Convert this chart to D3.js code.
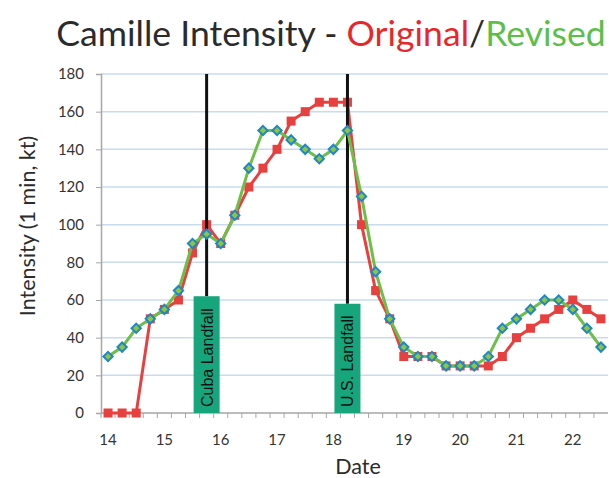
<!DOCTYPE html>
<html>
<head>
<meta charset="utf-8">
<script src="https://cdn.jsdelivr.net/npm/d3@7"></script>
<style>
  body { margin: 0; background: #fff; }
  svg { display: block; }
</style>
</head>
<body>
<div id="chart-area"></div>
<script>
// 6-hourly fixes from 14.0 to 22.5, with one extra fix at U.S. landfall (index 17)
const dates = ["14.00","14.25","14.50","14.75","15.00","15.25","15.50","15.75","16.00","16.25","16.50","16.75",
  "17.00","17.25","17.50","17.75","18.00","18.15","18.25","18.50","18.75","19.00","19.25","19.50","19.75",
  "20.00","20.25","20.50","20.75","21.00","21.25","21.50","21.75","22.00","22.25","22.50"]
const original = [0,0,0,50,55,60,85,100,90,105,120,130,140,155,160,165,165,165,100,65,50,30,30,30,25,
  25,25,25,30,40,45,50,55,60,55,50]
const revised = [30,35,45,50,55,65,90,95,90,105,130,150,150,145,140,135,140,150,115,75,50,35,30,30,25,
  25,25,30,45,50,55,60,60,55,45,35]
const dayLabels = {"14.00":"14","15.00":"15","16.00":"16","17.00":"17","18.00":"18",
  "19.00":"19","20.00":"20","21.00":"21","22.00":"22"}
const yTicks = [0,20,40,60,80,100,120,140,160,180]
const landfalls = [{date: "15.75", name: "Cuba Landfall", top: 62},
                   {date: "18.15", name: "U.S. Landfall", top: 58}]

const w = 609
const h = 478
const font = "Lato, 'Open Sans', sans-serif"

const svg = d3.select("#chart-area")
  .append("svg")
  .attr("width", w)
  .attr("height", h)

const x = d3.scaleBand()
  .domain(dates)
  .range([101, 608])
const cx = (d) => x(d) + x.bandwidth() / 2

const y = d3.scaleLinear()
  .domain([0, 180])
  .range([413, 74])

// title
const title = svg.append("text")
  .attr("x", 331)
  .attr("y", 46)
  .attr("text-anchor", "middle")
  .style("font-family", font)
  .style("font-size", "35.6px")
title.append("tspan").attr("fill", "#2b2b2b").text("Camille Intensity - ")
title.append("tspan").attr("fill", "#e8262b").text("Original")
title.append("tspan").attr("fill", "#2b2b2b").text("/")
title.append("tspan").attr("fill", "#5cbf4a").text("Revised")

// gridlines
svg.append("g")
  .selectAll("line")
  .data(yTicks.slice(1))
  .enter()
  .append("line")
  .attr("x1", 101)
  .attr("x2", 608)
  .attr("y1", (d) => y(d))
  .attr("y2", (d) => y(d))
  .attr("stroke", "#c9dbef")
  .attr("stroke-width", 1.5)

// y axis
const yAxis = d3.axisLeft(y)
  .tickValues(yTicks)
  .tickSize(5)
  .tickPadding(12)
svg.append("g")
  .attr("transform", "translate(101,0)")
  .call(yAxis)
  .call(g => g.select(".domain").attr("stroke", "#a6a6a6").attr("stroke-width", 1.5))
  .call(g => g.selectAll(".tick line").attr("stroke", "#a6a6a6"))
  .call(g => g.selectAll(".tick text").attr("fill", "#333").style("font-family", font).style("font-size", "15px"))

// x axis: a tick between every fix, labels at whole days
const xAxisLine = svg.append("g").attr("transform", "translate(0,413)")
xAxisLine.append("line")
  .attr("x1", 101).attr("x2", 608)
  .attr("stroke", "#a6a6a6").attr("stroke-width", 1.5)
xAxisLine.selectAll(".tk")
  .data(dates)
  .enter()
  .append("line")
  .attr("class", "tk")
  .attr("x1", (d) => x(d)).attr("x2", (d) => x(d))
  .attr("y1", 0).attr("y2", 5)
  .attr("stroke", "#a6a6a6")
xAxisLine.selectAll("text")
  .data(dates.filter((d) => dayLabels[d]))
  .enter()
  .append("text")
  .attr("x", (d) => cx(d))
  .attr("y", 32)
  .attr("text-anchor", "middle")
  .attr("fill", "#333")
  .style("font-family", font)
  .style("font-size", "15px")
  .text((d) => dayLabels[d])

// axis titles
svg.append("text")
  .attr("transform", "translate(35,226) rotate(-90)")
  .attr("text-anchor", "middle")
  .attr("fill", "#2b2b2b")
  .style("font-family", font)
  .style("font-size", "21.5px")
  .text("Intensity (1 min, kt)")

svg.append("text")
  .attr("x", 358)
  .attr("y", 474)
  .attr("text-anchor", "middle")
  .attr("fill", "#2b2b2b")
  .style("font-family", font)
  .style("font-size", "21.5px")
  .text("Date")

const line = d3.line()
  .x((d, i) => cx(dates[i]))
  .y((d) => y(d))

// original series
svg.append("path")
  .datum(original)
  .attr("d", line)
  .attr("fill", "none")
  .attr("stroke", "#e8403f")
  .attr("stroke-width", 3)
svg.append("g")
  .selectAll("rect")
  .data(original)
  .enter()
  .append("rect")
  .attr("x", (d, i) => cx(dates[i]) - 4.5)
  .attr("y", (d) => y(d) - 4.5)
  .attr("width", 9)
  .attr("height", 9)
  .attr("fill", "#e8403f")

// landfall markers
const lf = svg.append("g")
lf.selectAll("line")
  .data(landfalls)
  .enter()
  .append("line")
  .attr("x1", (d) => cx(d.date)).attr("x2", (d) => cx(d.date))
  .attr("y1", y(180)).attr("y2", (d) => y(d.top))
  .attr("stroke", "#111")
  .attr("stroke-width", 3)
lf.selectAll("rect")
  .data(landfalls)
  .enter()
  .append("rect")
  .attr("x", (d) => cx(d.date) - 13)
  .attr("y", (d) => y(d.top))
  .attr("width", 26)
  .attr("height", (d) => y(0) - y(d.top))
  .attr("fill", "#17a67c")
lf.selectAll("text")
  .data(landfalls)
  .enter()
  .append("text")
  .attr("transform", (d) => "translate(" + (cx(d.date) + 6) + "," + (y(0) - 6) + ") rotate(-90)")
  .attr("fill", "#111")
  .style("font-family", "'Liberation Sans', Arial, sans-serif")
  .style("font-size", "16px")
  .text((d) => d.name)

// revised series
svg.append("path")
  .datum(revised)
  .attr("d", line)
  .attr("fill", "none")
  .attr("stroke", "#6cc04a")
  .attr("stroke-width", 3)
svg.append("g")
  .selectAll("path")
  .data(revised)
  .enter()
  .append("path")
  .attr("d", d3.symbol().type(d3.symbolDiamond2).size(55))
  .attr("transform", (d, i) => "translate(" + cx(dates[i]) + "," + y(d) + ")")
  .attr("fill", "#8cc63f")
  .attr("stroke", "#1f86c8")
  .attr("stroke-width", 2)
</script>
</body>
</html>
